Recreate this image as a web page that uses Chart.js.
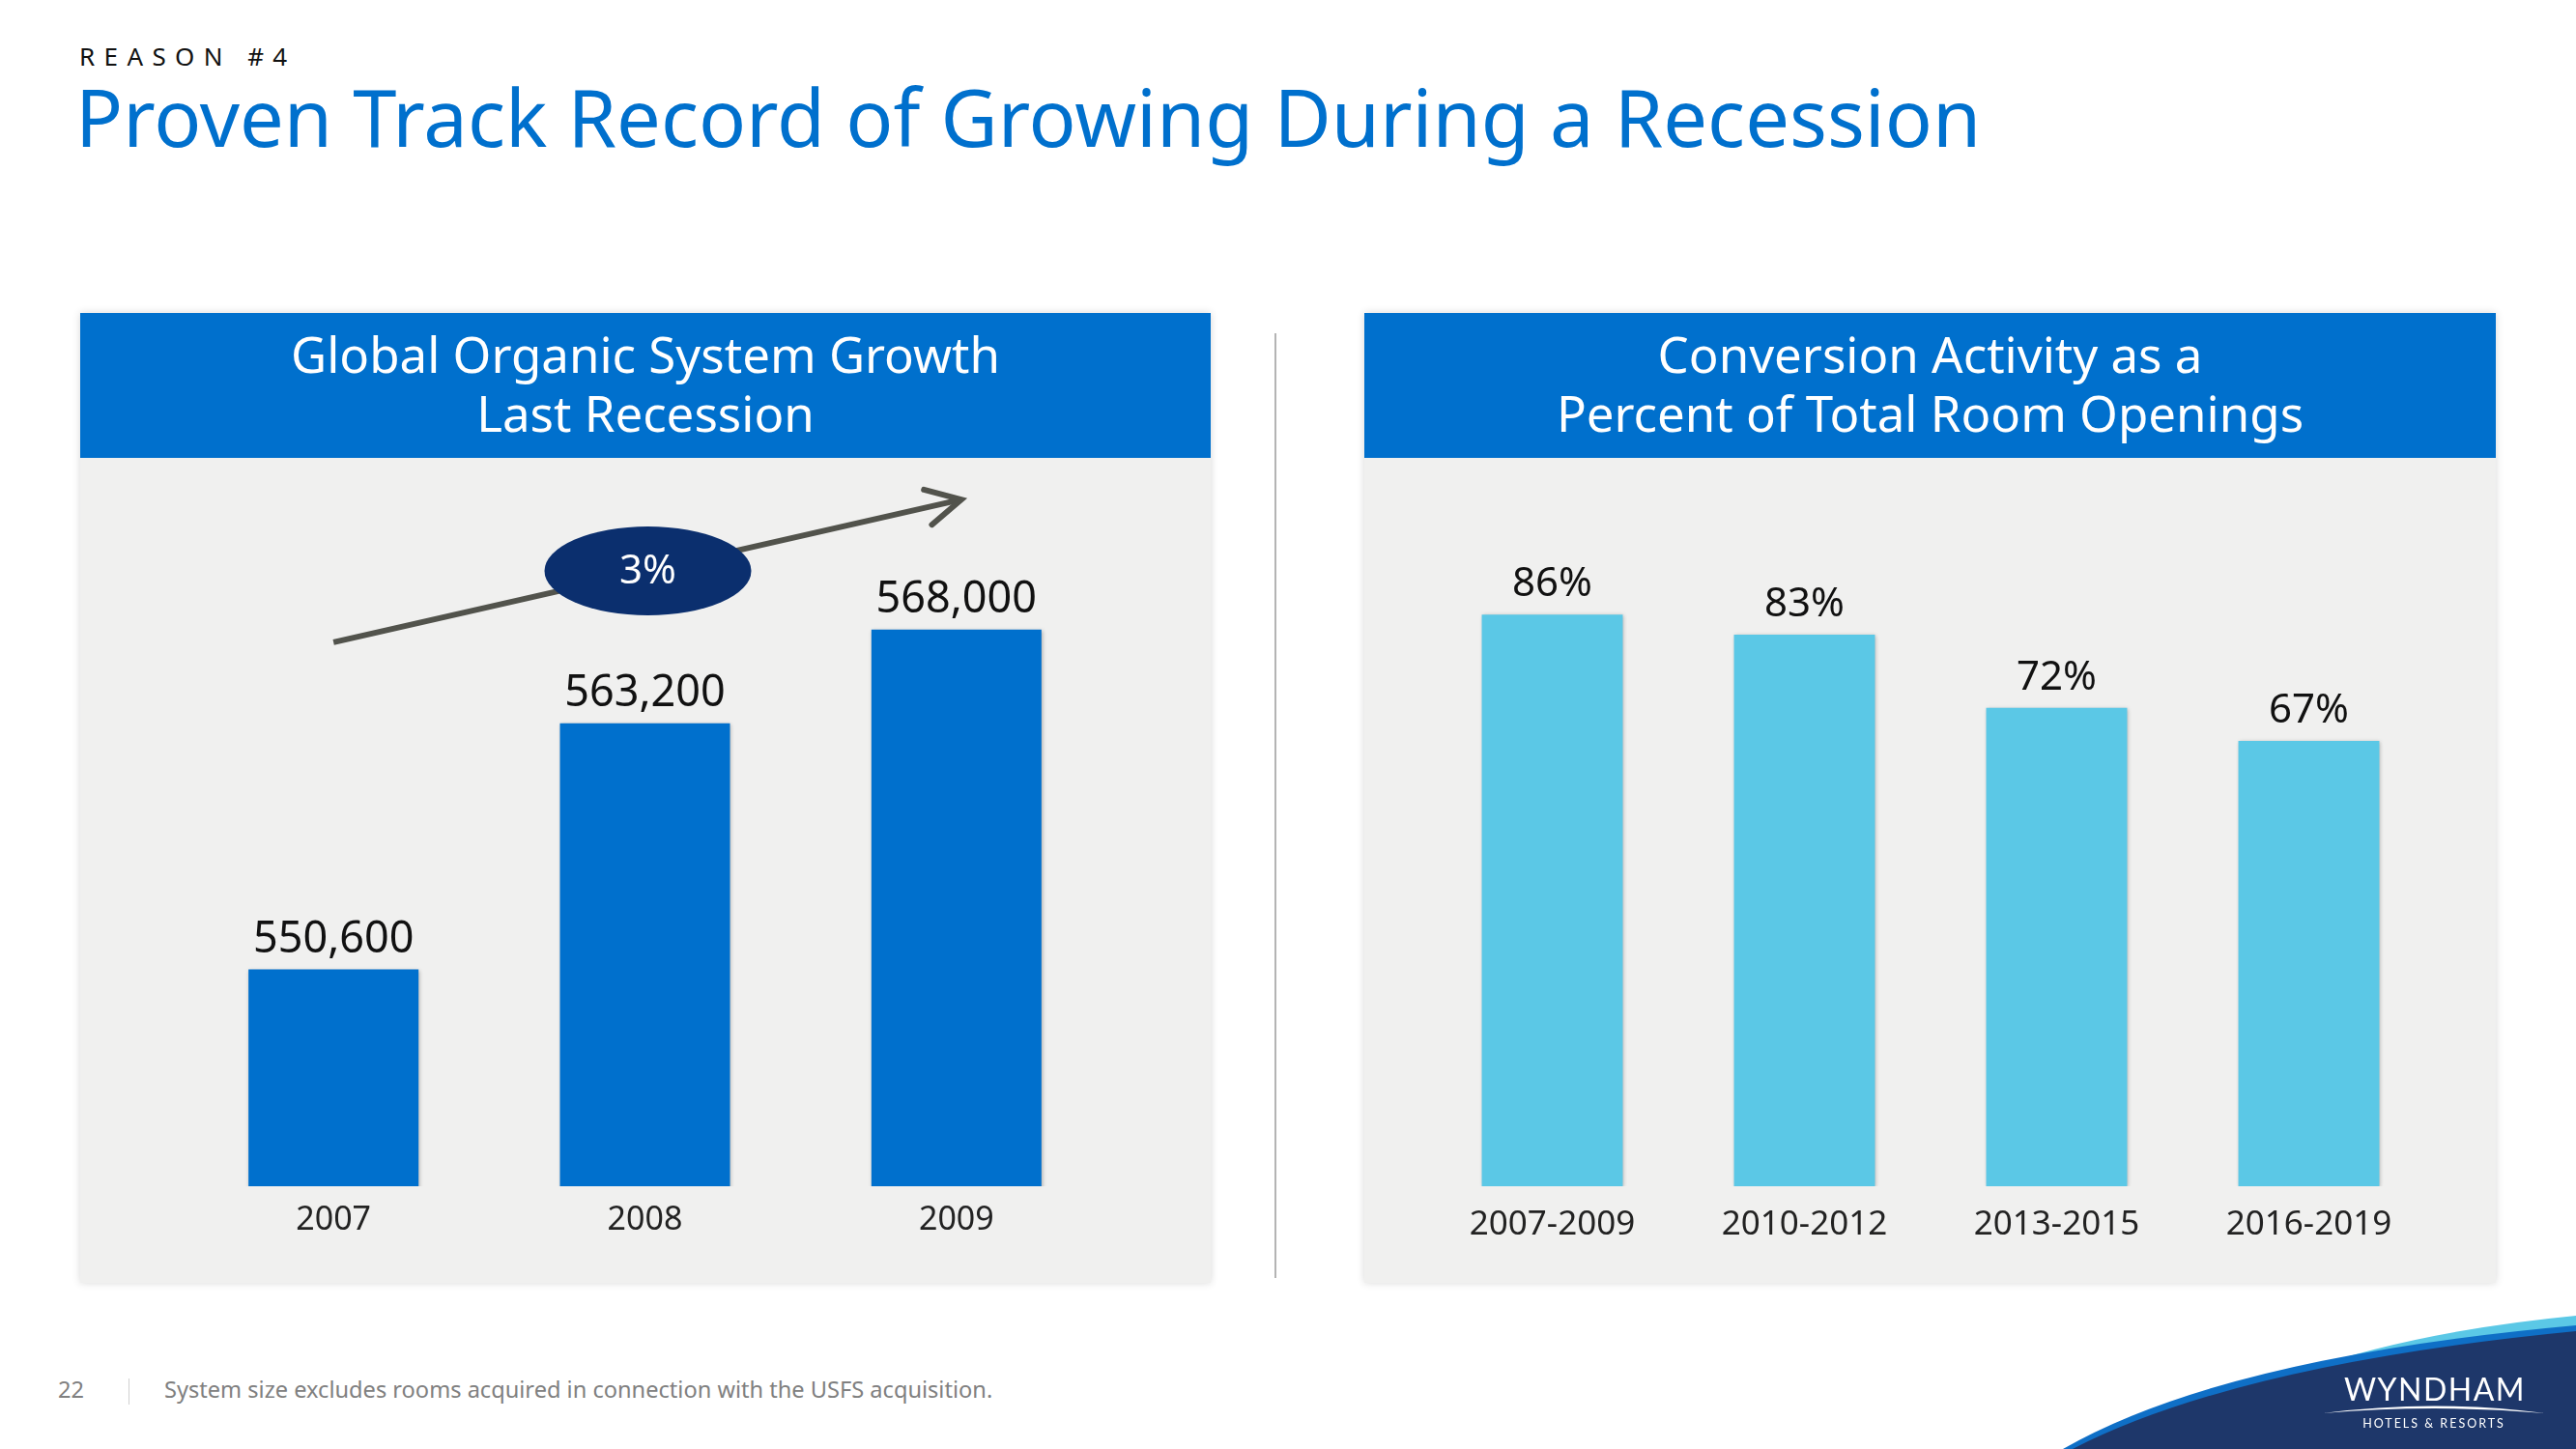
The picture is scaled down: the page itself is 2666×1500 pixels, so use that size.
<!DOCTYPE html>
<html><head><meta charset="utf-8">
<script src="https://cdn.jsdelivr.net/npm/chart.js@4.4.1/dist/chart.umd.min.js"></script>
<style>
html,body{margin:0;padding:0;background:#fff;}
body{width:2666px;height:1500px;position:relative;overflow:hidden;font-family:"Noto Sans","Open Sans",sans-serif;}
.kicker{position:absolute;left:82px;top:45px;font-size:26px;line-height:1;letter-spacing:9.4px;color:#111;white-space:nowrap;}
.title{position:absolute;left:78px;top:80px;font-size:81.3px;line-height:1;color:#0070CD;white-space:nowrap;}
.panel{position:absolute;top:324px;height:1004px;background:#F0F0EF;box-shadow:0 0 8px rgba(0,0,0,0.16);}
.hdr{position:absolute;left:0;top:0;right:0;height:150px;background:#0070CD;color:#fff;font-size:51px;line-height:61px;text-align:center;box-sizing:border-box;padding-top:12px;white-space:nowrap;}
.divider{position:absolute;left:1319px;top:345px;width:2px;height:978px;background:#B4B4B4;}
canvas{position:absolute;}
.foot{position:absolute;top:1427px;font-size:23.6px;line-height:1;color:#808080;white-space:nowrap;}
.sep{position:absolute;left:133px;top:1427px;width:1px;height:27px;background:#D0D0D0;}
</style></head>
<body>
<div class="kicker">REASON #4</div>
<div class="title">Proven Track Record of Growing During a Recession</div>

<div class="panel" style="left:83px;width:1170px;"><div class="hdr">Global Organic System Growth<br>Last Recession</div></div>
<div class="panel" style="left:1412px;width:1171px;"><div class="hdr">Conversion Activity as a<br>Percent of Total Room Openings</div></div>
<div class="divider"></div>

<canvas id="left" width="1170" height="854" style="left:83px;top:474px;"></canvas>
<canvas id="right" width="1171" height="854" style="left:1412px;top:474px;"></canvas>

<div class="foot" style="left:60px;">22</div>
<div class="sep"></div>
<div class="foot" style="left:170px;">System size excludes rooms acquired in connection with the USFS acquisition.</div>

<svg style="position:absolute;left:0;top:0" width="2666" height="1500" viewBox="0 0 2666 1500">
  <path d="M 2380 1420 Q 2500 1378 2666 1362 L 2666 1500 L 2380 1500 Z" fill="#5BC8E6"/>
  <path d="M 2135 1500 Q 2300 1405 2666 1372 L 2666 1500 Z" fill="#0F6FC6"/>
  <path d="M 2145 1500 Q 2316 1412 2666 1378 L 2666 1500 Z" fill="#1E376A"/>
  <text x="2520" y="1450" fill="#fff" font-family="Lato, 'Noto Sans', sans-serif" font-size="32" letter-spacing="1.5" text-anchor="middle">WYNDHAM</text>
  <path d="M 2404 1463 Q 2519 1448 2634 1463 Q 2519 1453 2404 1463 Z" fill="#fff"/>
  <text x="2519" y="1478" fill="#fff" font-family="Lato, 'Noto Sans', sans-serif" font-size="12.5" letter-spacing="2" text-anchor="middle">HOTELS &amp; RESORTS</text>
</svg>

<script>
// ---- data ----
const leftCategories = ['2007', '2008', '2009'];
const leftValues = [550600, 563200, 568000];
const leftAxisRange = [539500, 575500];
const growthLabel = '3%';
const growthArrowValues = [567350, 574650];   // trend arrow start / end (left chart y units)
const growthBadgeValue = 571000;              // badge centre (left chart y units)

const rightCategories = ['2007-2009', '2010-2012', '2013-2015', '2016-2019'];
const rightValues = [86, 83, 72, 67];
const rightAxisRange = [0, 100];

// ---- setup ----
Chart.defaults.font.family = '"Noto Sans", "Open Sans", sans-serif';
Chart.defaults.animation = false;

function makeValueLabels(format, fontSize, offset) {
  return {
    id: 'valueLabels',
    afterDatasetsDraw(chart) {
      const ctx = chart.ctx;
      const meta = chart.getDatasetMeta(0);
      const data = chart.data.datasets[0].data;
      ctx.save();
      ctx.font = fontSize + 'px "Noto Sans", "Open Sans", sans-serif';
      ctx.fillStyle = '#111';
      ctx.textAlign = 'center';
      ctx.textBaseline = 'alphabetic';
      meta.data.forEach((bar, i) => ctx.fillText(format(data[i]), bar.x, bar.y - offset));
      ctx.restore();
    }
  };
}

const barShadow = {
  id: 'barShadow',
  beforeDatasetsDraw(chart) {
    const ctx = chart.ctx;
    ctx.save();
    ctx.shadowColor = 'rgba(0,0,0,0.28)';
    ctx.shadowBlur = 4;
    ctx.shadowOffsetX = 1;
    ctx.shadowOffsetY = 1;
  },
  afterDatasetsDraw(chart) { chart.ctx.restore(); }
};

const trendArrow = {
  id: 'trendArrow',
  afterDatasetsDraw(chart) {
    const ctx = chart.ctx, xs = chart.scales.x, ys = chart.scales.y;
    const x0 = xs.getPixelForValue(0), x1 = xs.getPixelForValue(leftCategories.length - 1) + 5;
    const y0 = ys.getPixelForValue(growthArrowValues[0]), y1 = ys.getPixelForValue(growthArrowValues[1]);
    const ang = Math.atan2(y1 - y0, x1 - x0);
    ctx.save();
    ctx.strokeStyle = '#52534C';
    ctx.lineWidth = 6;
    ctx.lineCap = 'butt';
    ctx.beginPath(); ctx.moveTo(x0, y0); ctx.lineTo(x1, y1); ctx.stroke();
    ctx.lineCap = 'round';
    const L = 40, a = Math.PI / 6.5;
    ctx.beginPath();
    ctx.moveTo(x1 - L * Math.cos(ang - a), y1 - L * Math.sin(ang - a));
    ctx.lineTo(x1, y1);
    ctx.lineTo(x1 - L * Math.cos(ang + a), y1 - L * Math.sin(ang + a));
    ctx.stroke();
    const cx = xs.getPixelForValue(1) + 3, cy = ys.getPixelForValue(growthBadgeValue);
    ctx.fillStyle = '#0B2F6E';
    ctx.beginPath(); ctx.ellipse(cx, cy, 107, 46, 0, 0, Math.PI * 2); ctx.fill();
    ctx.fillStyle = '#fff';
    ctx.font = '42px "Noto Sans", "Open Sans", sans-serif';
    ctx.textAlign = 'center'; ctx.textBaseline = 'middle';
    ctx.fillText(growthLabel, cx, cy + 1);
    ctx.restore();
  }
};

new Chart(document.getElementById('left'), {
  type: 'bar',
  data: { labels: leftCategories, datasets: [{ data: leftValues, backgroundColor: '#0070CD', barPercentage: 0.546, categoryPercentage: 1 }] },
  options: {
    responsive: false,
    layout: { padding: { left: 101, right: 102, top: 26, bottom: 0 } },
    plugins: { legend: { display: false }, tooltip: { enabled: false } },
    scales: {
      x: { grid: { display: false, drawTicks: false }, border: { display: false },
           ticks: { color: '#222', font: { size: 34 }, padding: 15 },
           afterFit: s => { s.height = 100; } },
      y: { display: false, min: leftAxisRange[0], max: leftAxisRange[1] }
    }
  },
  plugins: [barShadow, makeValueLabels(v => v.toLocaleString('en-US'), 45, 18), trendArrow]
});

new Chart(document.getElementById('right'), {
  type: 'bar',
  data: { labels: rightCategories, datasets: [{ data: rightValues, backgroundColor: '#5BC8E6', barPercentage: 0.559, categoryPercentage: 1 }] },
  options: {
    responsive: false,
    layout: { padding: { left: 64, right: 63, top: 66, bottom: 0 } },
    plugins: { legend: { display: false }, tooltip: { enabled: false } },
    scales: {
      x: { grid: { display: false, drawTicks: false }, border: { display: false },
           ticks: { color: '#222', font: { size: 35 }, padding: 19 },
           afterFit: s => { s.height = 100; } },
      y: { display: false, min: rightAxisRange[0], max: rightAxisRange[1] }
    }
  },
  plugins: [barShadow, makeValueLabels(v => v + '%', 42, 19)]
});
</script>
</body></html>
